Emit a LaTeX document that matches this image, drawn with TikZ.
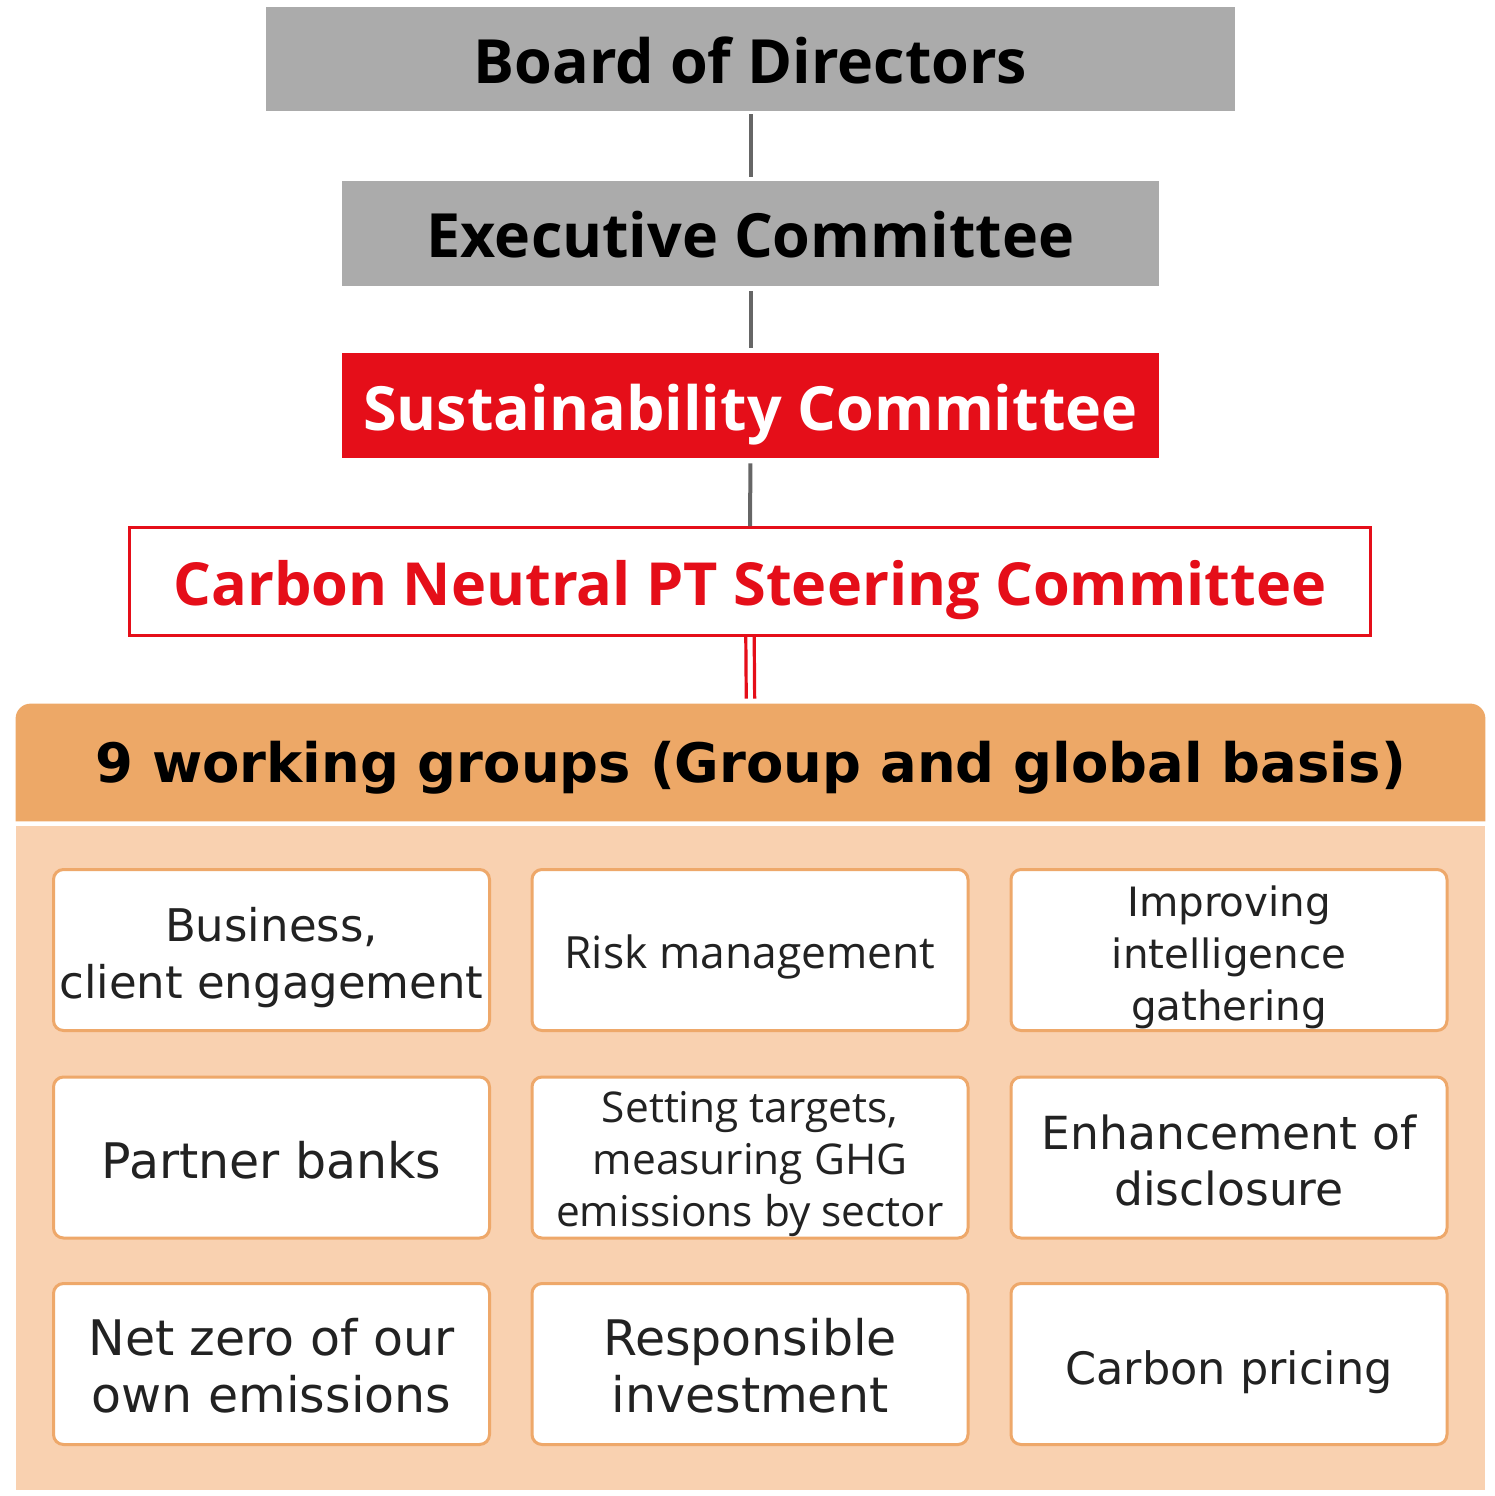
\documentclass[tikz,border=0pt]{standalone}
\usepackage{fontspec}
\setmainfont{DejaVu Sans}
\newfontfamily\osans{Open Sans}
\definecolor{boardgray}{HTML}{ABABAB}
\definecolor{linegray}{HTML}{666666}
\definecolor{sred}{HTML}{E50E19}
\definecolor{hdrorange}{HTML}{EDA867}
\definecolor{peach}{HTML}{F9D1B0}
\definecolor{boxline}{HTML}{EEA86A}
\definecolor{txt}{HTML}{222222}
\tikzset{
  topbox/.style={rectangle, inner sep=0pt, align=center, text height=21.8pt, text depth=0pt,
    font=\osans\bfseries\fontsize{30.5}{36}\selectfont},
  graybox/.style={topbox, fill=boardgray, text=black},
  redbox/.style={topbox, fill=sred, text=white},
  cnbox/.style={topbox, draw=sred, line width=1.5pt, fill=white, text=sred},
  wgbox/.style={rectangle, draw=boxline, line width=1.5pt, fill=white, rounded corners=5pt,
    minimum width=218pt, minimum height=80.5pt, inner sep=0pt},
  wgtext/.style={inner sep=0pt, align=center, text=txt},
  conn/.style={draw=linegray, line width=2pt},
  redconn/.style={draw=sred, line width=1.6pt},
}
\begin{document}
\begin{tikzpicture}[x=0.5pt,y=-0.5pt]
\useasboundingbox (0,0) rectangle (1495,1496);
% top chain
\node[graybox, minimum width=484.5pt, minimum height=52pt] (board) at (750.5,59) {\raisebox{-1.2pt}{Board of Directors}};
\node[graybox, minimum width=408.5pt, minimum height=52.5pt] (exec) at (750.5,233.5) {\raisebox{-1.2pt}{Executive Committee}};
\node[redbox, minimum width=408.5pt, minimum height=52.5pt] (sust) at (750.5,405.5) {\raisebox{-1.5pt}{Sustainability Committee}};
\node[cnbox, minimum width=620.5pt, minimum height=54pt, text height=21.2pt, font=\osans\bfseries\fontsize{29.7}{35}\selectfont] (cn) at (750,581.5) {\raisebox{-1.5pt}{Carbon Neutral PT Steering Committee}};
% working groups panel
\fill[peach] (16,826) rectangle (1485,1490);
\node[rectangle, minimum width=734.5pt, minimum height=58.5pt, inner sep=0pt] (wg) at (750.5,762.5) {};
\fill[hdrorange] (wg.south west) {[rounded corners=7.5pt] -- (wg.north west) -- (wg.north east)} -- (wg.south east) -- cycle;
\node[font=\bfseries\fontsize{27.2}{32}\selectfont, text=black, text height=19.8pt, text depth=0pt, inner sep=0pt] (wgt) at (wg.center) {9 working groups (Group and global basis)};
% connectors
\draw[conn, shorten <=1.5pt, shorten >=2pt] (board.south) -- (exec.north);
\draw[conn, shorten <=2.5pt, shorten >=2.5pt] (exec.south) -- (sust.north);
\draw[conn, shorten <=2.5pt] (sust.south) -- (cn.north);
\draw[redconn, shorten >=2.5pt] ([xshift=-2.1pt]cn.south) -- ([xshift=-2.1pt]wg.north);
\draw[redconn, shorten >=2.5pt] ([xshift=2.1pt]cn.south) -- ([xshift=2.1pt]wg.north);
% inner boxes
\node[wgbox] (b1) at (271.5,950) {};
\node[wgbox] (b2) at (750,950) {};
\node[wgbox] (b3) at (1229,950) {};
\node[wgbox] (b4) at (271.5,1157.5) {};
\node[wgbox] (b5) at (750,1157.5) {};
\node[wgbox] (b6) at (1229,1157.5) {};
\node[wgbox] (b7) at (271.5,1364) {};
\node[wgbox] (b8) at (750,1364) {};
\node[wgbox] (b9) at (1229,1364) {};
\node[wgtext, font=\fontsize{22.5}{28.5}\selectfont, yshift=-4pt] (t1) at (b1.center) {Business,\\client engagement};
\node[wgtext, font=\osans\fontsize{22.2}{26}\selectfont, yshift=-3.5pt] (t2) at (b2.center) {Risk management};
\node[wgtext, font=\fontsize{20.2}{26}\selectfont, yshift=-3.5pt] (t3) at (b3.center) {Improving\\intelligence\\gathering};
\node[wgtext, font=\fontsize{24.5}{28}\selectfont, yshift=-1.5pt] (t4) at (b4.center) {Partner banks};
\node[wgtext, font=\osans\fontsize{21.2}{26}\selectfont, yshift=-3.5pt] (t5) at (b5.center) {Setting targets,\\measuring GHG\\emissions by sector};
\node[wgtext, font=\fontsize{22.8}{28}\selectfont, yshift=-1.5pt] (t6) at (b6.center) {Enhancement of\\disclosure};
\node[wgtext, font=\fontsize{24.5}{28.5}\selectfont, yshift=-1pt] (t7) at (b7.center) {Net zero of our\\own emissions};
\node[wgtext, font=\fontsize{24.5}{28.5}\selectfont, yshift=-1pt] (t8) at (b8.center) {Responsible\\investment};
\node[wgtext, font=\fontsize{22.3}{28}\selectfont, yshift=-4pt] (t9) at (b9.center) {Carbon pricing};
\end{tikzpicture}
\end{document}
